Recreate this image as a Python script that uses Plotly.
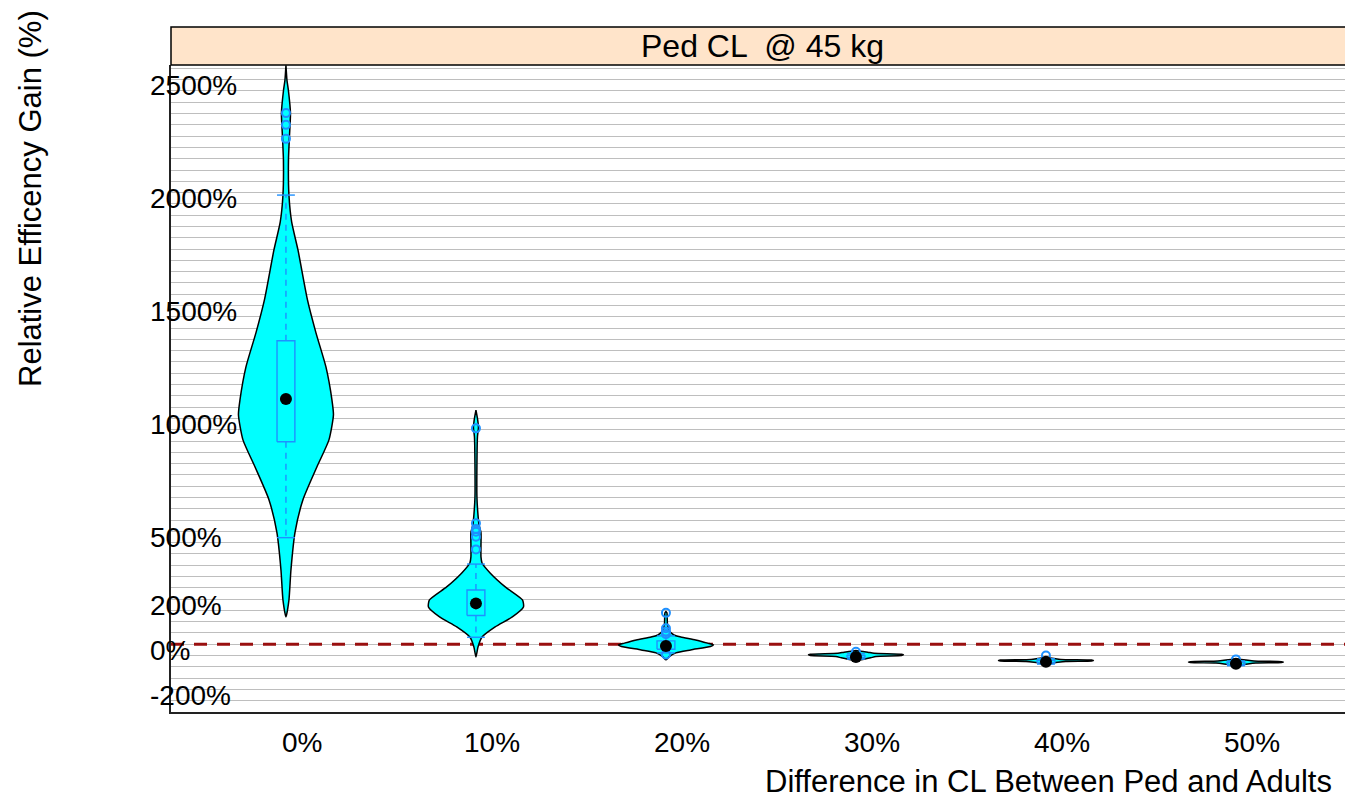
import plotly.graph_objects as go

# ---------------- data ----------------
categories = ["0%", "10%", "20%", "30%", "40%", "50%"]

# violin density profiles: value (%) and relative half-width (0..1)
dens_values_0 = [121, 196, 329, 494, 640, 786, 905, 1016, 1082, 1228, 1379, 1525, 1746, 1870, 1989, 2144, 2250, 2352, 2450, 2498, 2564]
dens_width_0 = [0, .063, .105, .19, .358, .653, .905, 1.0, .968, .842, .632, .453, .253, .12, .063, .053, .074, .095, .053, .021, 0]
dens_values_1 = [-56, -12, 32, 77, 121, 165, 196, 254, 316, 360, 387, 440, 494, 530, 573, 650, 800, 920, 960, 1000, 1037]
dens_width_1 = [0, .043, .128, .404, .766, 1.0, .979, .617, .298, .128, .106, .106, .106, .064, .043, .021, .021, .032, .053, .032, 0]
dens_values_2 = [-69, -56, -38, -25, -10, -3, 5, 19, 32, 41, 63, 90, 139, 145]
dens_width_2 = [0, .063, .208, .521, .938, 1.0, .875, .625, .313, .167, .063, .031, .021, 0]
dens_values_3 = [-70, -66, -60, -54, -50, -47, -44, -40, -35, -31, -28]
dens_width_3 = [0, .17, .31, .42, .96, 1.0, .96, .38, .25, .10, 0]
dens_values_4 = [-90, -85, -80, -76, -74, -72, -70, -67, -63, -58]
dens_width_4 = [0, .1, .25, .42, .96, 1.0, .96, .31, .17, 0]
dens_values_5 = [-97, -92, -87, -83, -81, -79, -77, -74, -70, -65]
dens_width_5 = [0, .1, .25, .42, .96, 1.0, .96, .38, .21, 0]

dens_values = [dens_values_0, dens_values_1, dens_values_2, dens_values_3, dens_values_4, dens_values_5]
dens_widths = [dens_width_0, dens_width_1, dens_width_2, dens_width_3, dens_width_4, dens_width_5]

# box-plot statistics (%)
box_lo = [472, 31, -38, -66, -88, -95]
box_q1 = [897, 127, -22, -60, -82, -90]
box_med = [1086, 181, -8, -56, -78, -86]
box_q3 = [1344, 240, 15, -50, -72, -80]
box_hi = [1989, 355, 37, -42, -64, -74]
outliers = [[2238, 2300, 2352], [420, 476, 498, 510, 536, 956], [-45, 45, 56, 71, 139], [-33], [-50], [-67]]

y_tick_vals = [2500, 2000, 1500, 1000, 500, 200, 0, -200]
y_tick_text = ["2500%", "2000%", "1500%", "1000%", "500%", "200%", "0%", "-200%"]

# ---------------- style ----------------
W, H = 1345, 798
ML, MR, MT, MB = 171, 0, 65, 86
PW, PH = W - ML - MR, H - MT - MB
XR = [-0.605, 5.574]
YR = [-300, 2565]
VW = 0.25     # max violin half width (x units)
BW = 0.047    # box half width
FONT = "Liberation Sans, Arial, sans-serif"
BLUE = "#1E90FF"

fig = go.Figure()

# zero reference line (drawn under the violins)
fig.add_trace(go.Scatter(x=XR, y=[0, 0], mode="lines",
                         line=dict(color="#990F0F", width=3, dash="13px,10px"),
                         hoverinfo="skip", showlegend=False))

for i, cat in enumerate(categories):
    vals = dens_values[i]
    wid = dens_widths[i]
    xs = [i + VW * w for w in wid] + [i - VW * w for w in reversed(wid)]
    ys = list(vals) + list(reversed(vals))
    fig.add_trace(go.Scatter(x=xs, y=ys, mode="lines", fill="toself",
                             fillcolor="#00FFFF",
                             line=dict(color="black", width=1.5, shape="spline", smoothing=0.6),
                             name=cat, showlegend=False, hoverinfo="skip"))
    # whiskers (dashed)
    fig.add_trace(go.Scatter(x=[i, i, None, i, i], y=[box_q3[i], box_hi[i], None, box_q1[i], box_lo[i]],
                             mode="lines", line=dict(color=BLUE, width=1.4, dash="6px,5px"),
                             showlegend=False, hoverinfo="skip"))
    # caps
    fig.add_trace(go.Scatter(x=[i - BW, i + BW, None, i - BW, i + BW],
                             y=[box_hi[i], box_hi[i], None, box_lo[i], box_lo[i]],
                             mode="lines", line=dict(color=BLUE, width=1.4),
                             showlegend=False, hoverinfo="skip"))
    # box
    fig.add_trace(go.Scatter(x=[i - BW, i + BW, i + BW, i - BW, i - BW],
                             y=[box_q1[i], box_q1[i], box_q3[i], box_q3[i], box_q1[i]],
                             mode="lines", line=dict(color=BLUE, width=1.4),
                             showlegend=False, hoverinfo="skip"))
    # outliers
    fig.add_trace(go.Scatter(x=[i] * len(outliers[i]), y=outliers[i], mode="markers",
                             marker=dict(symbol="circle-open", size=8, color=BLUE, line=dict(width=2)),
                             showlegend=False, hoverinfo="skip"))
    # median dot
    fig.add_trace(go.Scatter(x=[i], y=[box_med[i]], mode="markers",
                             marker=dict(symbol="circle", size=12, color="black"),
                             showlegend=False, hoverinfo="skip"))

annotations = []
for v, t in zip(y_tick_vals, y_tick_text):
    annotations.append(dict(x=(148 - ML) / PW, xref="paper", y=v, yref="y", text=t,
                            showarrow=False, xanchor="left", yanchor="middle", yshift=-6,
                            font=dict(family=FONT, size=28, color="black")))
for i, c in enumerate(categories):
    annotations.append(dict(x=i + 0.085, xref="x", y=0, yref="paper", text=c,
                            showarrow=False, xanchor="center", yanchor="middle", yshift=-30,
                            font=dict(family=FONT, size=28, color="black")))
# strip text
annotations.append(dict(x=(763 - ML) / PW, xref="paper", y=1 + (MT - 46) / PH, yref="paper",
                        text="Ped CL  @ 45 kg", showarrow=False, xanchor="center", yanchor="middle",
                        font=dict(family=FONT, size=32, color="black")))
# axis titles
annotations.append(dict(x=(1048 - ML) / PW, xref="paper", y=-(781 - (H - MB)) / PH, yref="paper",
                        text="Difference in CL Between Ped and Adults", showarrow=False,
                        xanchor="center", yanchor="middle",
                        font=dict(family=FONT, size=31, color="black")))
annotations.append(dict(x=(30 - ML) / PW, xref="paper", y=1 - (199 - MT) / PH, yref="paper",
                        text="Relative Efficency Gain (%)", showarrow=False, textangle=-90,
                        xanchor="center", yanchor="middle",
                        font=dict(family=FONT, size=31, color="black")))

fig.update_layout(
    width=W, height=H,
    margin=dict(l=ML, r=MR, t=MT, b=MB, autoexpand=False),
    plot_bgcolor="white", paper_bgcolor="white",
    showlegend=False,
    annotations=annotations,
    shapes=[dict(type="rect", xref="paper", yref="paper", x0=0, x1=1.02,
                 y0=1, y1=1 + (MT - 27) / PH, fillcolor="#FFE4CA",
                 line=dict(color="black", width=1.5), layer="above")],
    xaxis=dict(range=XR, showgrid=False, zeroline=False, showticklabels=False, ticks="",
               showline=True, linecolor="#222", linewidth=1.5),
    yaxis=dict(range=YR, showgrid=True, gridcolor="#BEBEBE", gridwidth=1.2, dtick=50, tick0=0,
               zeroline=False, showticklabels=False, ticks="",
               showline=True, linecolor="#222", linewidth=1.5),
)

fig.write_html("out.html")
